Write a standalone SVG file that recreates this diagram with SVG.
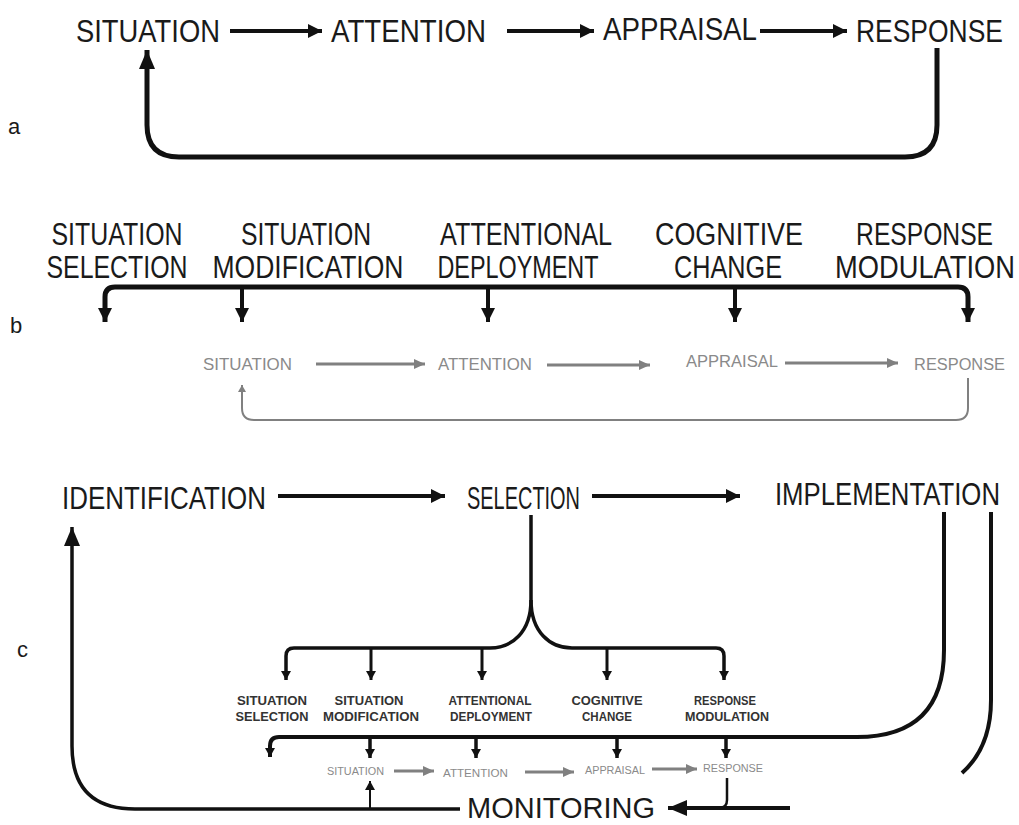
<svg xmlns="http://www.w3.org/2000/svg" width="1019" height="825" viewBox="0 0 1019 825">
<style>
text{font-family:"Liberation Sans",Arial,sans-serif;fill:#1a1a1a}
.big{font-size:32px}
.lbl{font-size:22px}
.gb{font-size:17px;fill:#8a8a8a}
.gc{font-size:10px;fill:#8a8a8a}
.sb{font-size:12px;font-weight:bold;fill:#333}
.k{fill:none;stroke:#111;stroke-linecap:butt}
.g{fill:none;stroke:#808080}
</style>
<defs>
<marker id="ah" markerUnits="userSpaceOnUse" markerWidth="16" markerHeight="14" refX="14" refY="7" orient="auto-start-reverse"><path d="M0,0 L14,7 L0,14 Z" fill="#111"/></marker>
<marker id="ahL" markerUnits="userSpaceOnUse" markerWidth="20" markerHeight="16" refX="19" refY="8" orient="auto"><path d="M0,0 L19,8 L0,16 Z" fill="#111"/></marker>
<marker id="ahS" markerUnits="userSpaceOnUse" markerWidth="10" markerHeight="10" refX="9" refY="5" orient="auto"><path d="M0,0 L9,5 L0,10 Z" fill="#111"/></marker>
<marker id="ahG" markerUnits="userSpaceOnUse" markerWidth="12" markerHeight="10" refX="11" refY="5" orient="auto"><path d="M0,0 L11,5 L0,10 Z" fill="#808080"/></marker>
<marker id="ahGs" markerUnits="userSpaceOnUse" markerWidth="8" markerHeight="8" refX="7" refY="4" orient="auto"><path d="M0,0 L7,4 L0,8 Z" fill="#808080"/></marker>
</defs>

<!-- panel labels -->
<text class="lbl" x="8" y="134">a</text>
<text class="lbl" x="10" y="333">b</text>
<text class="lbl" x="17" y="657">c</text>

<!-- section a nodes -->
<g id="a-situation"><text class="big" x="76" y="42" textLength="144" lengthAdjust="spacingAndGlyphs">SITUATION</text></g>
<g id="a-attention"><text class="big" x="331" y="42" textLength="155" lengthAdjust="spacingAndGlyphs">ATTENTION</text></g>
<g id="a-appraisal"><text class="big" x="603" y="40" textLength="154" lengthAdjust="spacingAndGlyphs">APPRAISAL</text></g>
<g id="a-response"><text class="big" transform="matrix(0.827,0,0,1,1003,42)" x="0" y="0" text-anchor="end">RESPONSE</text></g>

<!-- section b nodes -->
<g id="b-sitsel">
<text class="big" x="117" y="245" text-anchor="middle" textLength="131" lengthAdjust="spacingAndGlyphs">SITUATION</text>
<text class="big" x="117" y="278" text-anchor="middle" textLength="141" lengthAdjust="spacingAndGlyphs">SELECTION</text></g>
<g id="b-sitmod">
<text class="big" x="306" y="245" text-anchor="middle" textLength="130" lengthAdjust="spacingAndGlyphs">SITUATION</text>
<text class="big" x="308" y="278" text-anchor="middle" textLength="191" lengthAdjust="spacingAndGlyphs">MODIFICATION</text></g>
<g id="b-attdep">
<text class="big" x="526" y="245" text-anchor="middle" textLength="172" lengthAdjust="spacingAndGlyphs">ATTENTIONAL</text>
<text class="big" x="518" y="278" text-anchor="middle" textLength="161" lengthAdjust="spacingAndGlyphs">DEPLOYMENT</text></g>
<g id="b-cogch">
<text class="big" x="729" y="245" text-anchor="middle" textLength="148" lengthAdjust="spacingAndGlyphs">COGNITIVE</text>
<text class="big" x="728" y="278" text-anchor="middle" textLength="108" lengthAdjust="spacingAndGlyphs">CHANGE</text></g>
<g id="b-respmod">
<text class="big" transform="matrix(0.77,0,0,1,993,245)" x="0" y="0" text-anchor="end">RESPONSE</text>
<text class="big" transform="matrix(0.853,0,0,1,1015,278)" x="0" y="0" text-anchor="end">MODULATION</text></g>
<g id="b-situation"><text class="gb" x="203" y="370" textLength="89" lengthAdjust="spacingAndGlyphs">SITUATION</text></g>
<g id="b-attention"><text class="gb" x="438" y="370" textLength="94" lengthAdjust="spacingAndGlyphs">ATTENTION</text></g>
<g id="b-appraisal"><text class="gb" x="686" y="367" textLength="92" lengthAdjust="spacingAndGlyphs">APPRAISAL</text></g>
<g id="b-response"><text class="gb" transform="matrix(0.963,0,0,1,1005,370)" x="0" y="0" text-anchor="end">RESPONSE</text></g>

<!-- section c nodes -->
<g id="c-identification"><text class="big" x="62" y="509" textLength="204" lengthAdjust="spacingAndGlyphs">IDENTIFICATION</text></g>
<g id="c-selection"><text class="big" x="467" y="509" textLength="113" lengthAdjust="spacingAndGlyphs">SELECTION</text></g>
<g id="c-implementation"><text class="big" transform="matrix(0.805,0,0,1,1000,505)" x="0" y="0" text-anchor="end">IMPLEMENTATION</text></g>
<g id="c-monitoring"><text x="467" y="818" style="font-size:30px" textLength="188" lengthAdjust="spacingAndGlyphs">MONITORING</text></g>
<g id="c-sitsel">
<text class="sb" x="272" y="705" text-anchor="middle" textLength="70" lengthAdjust="spacingAndGlyphs">SITUATION</text>
<text class="sb" x="272" y="721" text-anchor="middle" textLength="73" lengthAdjust="spacingAndGlyphs">SELECTION</text></g>
<g id="c-sitmod">
<text class="sb" x="369" y="705" text-anchor="middle" textLength="69" lengthAdjust="spacingAndGlyphs">SITUATION</text>
<text class="sb" x="371" y="721" text-anchor="middle" textLength="96" lengthAdjust="spacingAndGlyphs">MODIFICATION</text></g>
<g id="c-attdep">
<text class="sb" x="490" y="705" text-anchor="middle" textLength="83" lengthAdjust="spacingAndGlyphs">ATTENTIONAL</text>
<text class="sb" x="491" y="721" text-anchor="middle" textLength="82" lengthAdjust="spacingAndGlyphs">DEPLOYMENT</text></g>
<g id="c-cogch">
<text class="sb" x="607" y="705" text-anchor="middle" textLength="71" lengthAdjust="spacingAndGlyphs">COGNITIVE</text>
<text class="sb" x="607" y="721" text-anchor="middle" textLength="50" lengthAdjust="spacingAndGlyphs">CHANGE</text></g>
<g id="c-respmod">
<text class="sb" x="725" y="705" text-anchor="middle" textLength="62" lengthAdjust="spacingAndGlyphs">RESPONSE</text>
<text class="sb" x="727" y="721" text-anchor="middle" textLength="84" lengthAdjust="spacingAndGlyphs">MODULATION</text></g>
<g id="c-situation"><text class="gc" x="327" y="775" textLength="57" lengthAdjust="spacingAndGlyphs">SITUATION</text></g>
<g id="c-attention"><text class="gc" x="443" y="777" textLength="65" lengthAdjust="spacingAndGlyphs">ATTENTION</text></g>
<g id="c-appraisal"><text class="gc" x="585" y="774" textLength="60" lengthAdjust="spacingAndGlyphs">APPRAISAL</text></g>
<g id="c-response"><text class="gc" x="703" y="772" textLength="60" lengthAdjust="spacingAndGlyphs">RESPONSE</text></g>

<!-- connectors -->
<g id="connectors">
<!-- a -->
<path class="k" stroke-width="4" d="M230,31 H322" marker-end="url(#ah)"/>
<path class="k" stroke-width="4" d="M507,31 H594" marker-end="url(#ah)"/>
<path class="k" stroke-width="4" d="M760,31 H847" marker-end="url(#ah)"/>
<path class="k" stroke-width="5" d="M937,48 V125 Q937,157 905,157 H179 Q147,157 147,125 V50" marker-end="url(#ahL)"/>
<!-- b -->
<path class="k" stroke-width="5" d="M105,322 V297 Q105,287 115,287 H958 Q968,287 968,297 V322" marker-start="url(#ah)" marker-end="url(#ah)"/>
<path class="k" stroke-width="4" d="M242,287 V322" marker-end="url(#ah)"/>
<path class="k" stroke-width="4" d="M488,287 V322" marker-end="url(#ah)"/>
<path class="k" stroke-width="4" d="M735,287 V322" marker-end="url(#ah)"/>
<path class="g" stroke-width="3" d="M316,364 H425" marker-end="url(#ahG)"/>
<path class="g" stroke-width="3" d="M547,365 H650" marker-end="url(#ahG)"/>
<path class="g" stroke-width="3" d="M785,363 H898" marker-end="url(#ahG)"/>
<path class="g" stroke-width="2" d="M968,378 V408 Q968,420 956,420 H254 Q242,420 242,408 V385" marker-end="url(#ahGs)"/>
<!-- c -->
<path class="k" stroke-width="4" d="M278,496 H445" marker-end="url(#ah)"/>
<path class="k" stroke-width="4" d="M592,496 H740" marker-end="url(#ah)"/>
<path class="k" stroke-width="3.5" d="M531,515 V600 C531,632 512,648 490,648 H294 Q286,648 286,656 V680" marker-end="url(#ahS)"/>
<path class="k" stroke-width="3.5" d="M531,600 C531,632 550,648 572,648 H716 Q724,648 724,656 V680" marker-end="url(#ahS)"/>
<path class="k" stroke-width="3" d="M371,648 V680" marker-end="url(#ahS)"/>
<path class="k" stroke-width="3" d="M482,648 V680" marker-end="url(#ahS)"/>
<path class="k" stroke-width="3" d="M607,648 V680" marker-end="url(#ahS)"/>
<path class="k" stroke-width="4" d="M944,512 V650 Q944,737 857,737 H279 Q270,737 270,746 V757" marker-end="url(#ahS)"/>
<path class="k" stroke-width="3.5" d="M370,737 V758" marker-end="url(#ahS)"/>
<path class="k" stroke-width="3.5" d="M476,737 V758" marker-end="url(#ahS)"/>
<path class="k" stroke-width="3.5" d="M617,737 V758" marker-end="url(#ahS)"/>
<path class="k" stroke-width="3.5" d="M726,737 V758" marker-end="url(#ahS)"/>
<path class="k" stroke-width="4" d="M991,512 V700 C991,735 980,757 962,773"/>
<path class="g" stroke-width="3" d="M394,771 H434" marker-end="url(#ahG)"/>
<path class="g" stroke-width="3" d="M525,772 H574" marker-end="url(#ahG)"/>
<path class="g" stroke-width="3" d="M652,769 H697" marker-end="url(#ahG)"/>
<path class="k" stroke-width="4" d="M790,808 H668" marker-end="url(#ahL)"/>
<path class="k" stroke-width="2.5" d="M727,778 V800 Q727,808 719,808"/>
<path class="k" stroke-width="3.5" d="M460,809 H135 Q72,809 72,746 V527" marker-end="url(#ahL)"/>
<path class="k" stroke-width="2" d="M370,809 V781" marker-end="url(#ahS)"/>
</g>
</svg>
